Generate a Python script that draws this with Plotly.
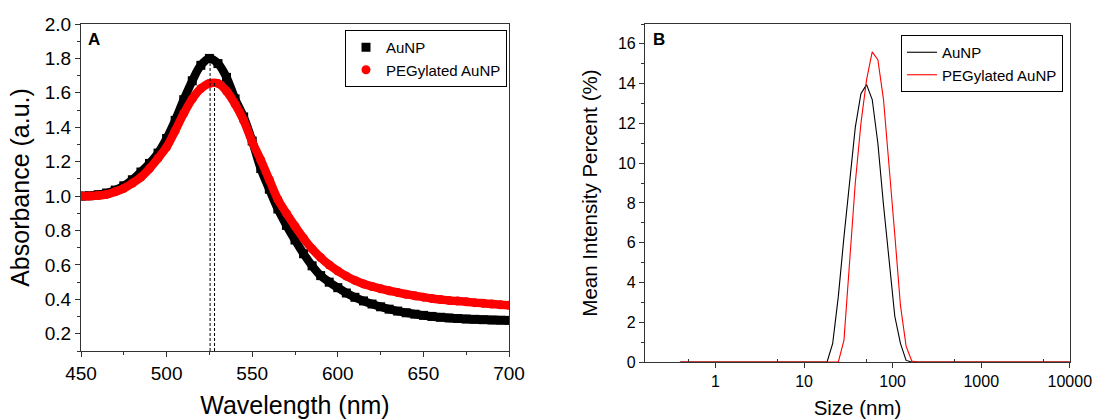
import plotly.graph_objects as go

# ---- panel A: UV-vis absorbance ----
wavelength = [450, 455, 460, 465, 470, 475, 480, 485, 490, 495,
              500, 505, 510, 515, 520, 525, 530, 535, 540, 545,
              550, 555, 560, 565, 570, 575, 580, 585, 590, 595,
              600, 605, 610, 615, 620, 625, 630, 635, 640, 645,
              650, 655, 660, 665, 670, 675, 680, 685, 690, 695, 700]
abs_aunp = [1.000, 1.002, 1.008, 1.018, 1.035, 1.060, 1.095, 1.140, 1.190, 1.250,
            1.335, 1.440, 1.560, 1.670, 1.760, 1.800, 1.770, 1.690, 1.565, 1.460,
            1.320, 1.160, 1.040, 0.925, 0.830, 0.745, 0.665, 0.595, 0.538, 0.500,
            0.468, 0.437, 0.412, 0.391, 0.373, 0.357, 0.343, 0.332, 0.322, 0.314,
            0.307, 0.301, 0.296, 0.292, 0.289, 0.286, 0.284, 0.282, 0.280, 0.279, 0.278]
abs_peg = [1.000, 1.000, 1.003, 1.010, 1.025, 1.045, 1.075, 1.110, 1.160, 1.220,
           1.285, 1.380, 1.480, 1.565, 1.625, 1.655, 1.655, 1.610, 1.535, 1.440,
           1.315, 1.210, 1.095, 0.980, 0.900, 0.825, 0.755, 0.693, 0.643, 0.600,
           0.565, 0.535, 0.510, 0.490, 0.475, 0.462, 0.450, 0.440, 0.430, 0.421,
           0.413, 0.405, 0.399, 0.394, 0.390, 0.386, 0.381, 0.377, 0.373, 0.369, 0.366]
peak_wl = [525.4, 528.0]
peak_abs = [1.80, 1.66]

# ---- panel B: DLS size distribution ----
size_nm = [0.4, 0.4632, 0.5365, 0.6213, 0.7195, 0.8332, 0.9649, 1.117, 1.294, 1.499,
           1.736, 2.01, 2.328, 2.696, 3.122, 3.615, 4.187, 4.849, 5.615, 6.503,
           7.531, 8.721, 10.1, 11.7, 13.54, 15.69, 18.17, 21.04, 24.36, 28.21,
           32.67, 37.84, 43.82, 50.75, 58.77, 68.06, 78.82, 91.28, 105.7, 122.4,
           141.8, 164.2, 190.1, 220.2, 255.0, 295.3, 342.0, 396.1, 458.7, 531.2,
           615.1, 712.4, 825.0, 955.4, 1106, 1281, 1484, 1718, 1990, 2305,
           2669, 3091, 3580, 4145, 4801, 5560, 6439, 7456, 8635, 10000]
int_aunp = [0, 0, 0, 0, 0, 0, 0, 0, 0, 0,
            0, 0, 0, 0, 0, 0, 0, 0, 0, 0,
            0, 0, 0, 0, 0, 0, 0, 0.94, 3.3, 6.3,
            9.2, 11.8, 13.5, 13.95, 13.2, 11.0, 7.9, 4.9, 2.3, 0.94,
            0.08, 0, 0, 0, 0, 0, 0, 0, 0, 0,
            0, 0, 0, 0, 0, 0, 0, 0, 0, 0,
            0, 0, 0, 0, 0, 0, 0, 0, 0, 0]
int_peg = [0, 0, 0, 0, 0, 0, 0, 0, 0, 0,
           0, 0, 0, 0, 0, 0, 0, 0, 0, 0,
           0, 0, 0, 0, 0, 0, 0, 0, 0, 1.1,
           5.0, 9.0, 12.0, 14.2, 15.6, 15.2, 13.2, 9.9, 6.4, 2.85,
           0.8, 0.05, 0, 0, 0, 0, 0, 0, 0, 0,
           0, 0, 0, 0, 0, 0, 0, 0, 0, 0,
           0, 0, 0, 0, 0, 0, 0, 0, 0, 0]

FONT = '"Liberation Sans", Arial, sans-serif'
AX = '#333333'
W, H = 1093, 419


def px_x(p):
    return p / W


def px_y(p):
    return 1 - p / H


fig = go.Figure()

# panel A curves: thick line underneath, markers on top
for y, color, sym, name in [(abs_aunp, 'black', 'square', 'AuNP'),
                            (abs_peg, '#ff0000', 'circle', 'PEGylated AuNP')]:
    fig.add_trace(go.Scatter(x=wavelength, y=y, mode='lines', line=dict(color=color, width=8.5, shape='spline'),
                             showlegend=False, hoverinfo='skip', xaxis='x', yaxis='y'))
    fig.add_trace(go.Scatter(x=wavelength, y=y, mode='markers', name=name,
                             marker=dict(color=color, symbol=sym, size=9, line=dict(width=0)),
                             legend='legend', xaxis='x', yaxis='y'))

# dashed peak markers
for wl, a in zip(peak_wl, peak_abs):
    fig.add_trace(go.Scatter(x=[wl, wl], y=[0.1, a], mode='lines',
                             line=dict(color='black', width=1, dash='3px,2px'),
                             showlegend=False, hoverinfo='skip', xaxis='x', yaxis='y'))

# panel B curves
fig.add_trace(go.Scatter(x=size_nm, y=int_aunp, mode='lines', name='AuNP',
                         line=dict(color='black', width=1.1), legend='legend2', xaxis='x2', yaxis='y2'))
fig.add_trace(go.Scatter(x=size_nm, y=int_peg, mode='lines', name='PEGylated AuNP',
                         line=dict(color='#ff0000', width=1.1), legend='legend2', xaxis='x2', yaxis='y2'))

axis_common = dict(showline=True, linecolor=AX, linewidth=1.2, mirror=True, showgrid=False,
                   zeroline=False, ticks='outside', tickcolor=AX, color='black', automargin=False)

fig.update_layout(
    width=W, height=H,
    margin=dict(l=0, r=0, t=0, b=0),
    paper_bgcolor='white', plot_bgcolor='white',
    font=dict(family=FONT, color='black'),
    xaxis=dict(domain=[px_x(81), px_x(509)], anchor='y', range=[450, 700], dtick=50, tick0=450,
               ticklen=5, tickfont=dict(size=19),
               minor=dict(dtick=25, ticks='outside', ticklen=3, tickcolor=AX),
               title=dict(text='Wavelength (nm)', font=dict(size=25), standoff=20), **axis_common),
    yaxis=dict(domain=[px_y(351), px_y(24)], anchor='x', range=[0.1, 2.0], dtick=0.2, tick0=0.2,
               tickformat='.1f', ticklen=5, tickfont=dict(size=19),
               minor=dict(dtick=0.1, ticks='outside', ticklen=3, tickcolor=AX),
               title=dict(text='Absorbance (a.u.)', font=dict(size=25), standoff=7), **axis_common),
    xaxis2=dict(domain=[px_x(645), px_x(1070)], anchor='y2', type='log', range=[-0.796, 4.002],
                tickvals=[1, 10, 100, 1000, 10000], ticktext=['1', '10', '100', '1000', '10000'],
                ticklen=5, tickfont=dict(size=16),
                minor=dict(tickvals=[0.5, 5, 50, 500, 5000], ticks='inside', ticklen=3, tickcolor=AX),
                title=dict(text='Size (nm)', font=dict(size=20.5), standoff=16), **axis_common),
    yaxis2=dict(domain=[px_y(362), px_y(24)], anchor='x2', range=[0, 17], dtick=2, tick0=0,
                ticklen=5, tickfont=dict(size=16),
                minor=dict(dtick=1, ticks='outside', ticklen=3, tickcolor=AX),
                title=dict(text='Mean Intensity Percent (%)', font=dict(size=20.5), standoff=14), **axis_common),
    legend=dict(x=px_x(507), y=px_y(30), xanchor='right', yanchor='top', bgcolor='white',
                bordercolor='black', borderwidth=1, font=dict(size=15), tracegroupgap=0),
    legend2=dict(x=px_x(1063), y=px_y(35), xanchor='right', yanchor='top', bgcolor='white',
                 bordercolor='black', borderwidth=1, font=dict(size=15), tracegroupgap=0),
    annotations=[
        dict(text='<b>A</b>', x=px_x(86), y=px_y(40), xref='paper', yref='paper',
             xanchor='left', yanchor='middle', showarrow=False, font=dict(size=17)),
        dict(text='<b>B</b>', x=px_x(651), y=px_y(40), xref='paper', yref='paper',
             xanchor='left', yanchor='middle', showarrow=False, font=dict(size=17)),
    ],
)

# drop the default 8px page margin so the figure fills the window exactly
fig.write_html("out.html", config={'displayModeBar': False},
               post_script="document.body.style.margin='0';document.body.style.overflow='hidden';")
